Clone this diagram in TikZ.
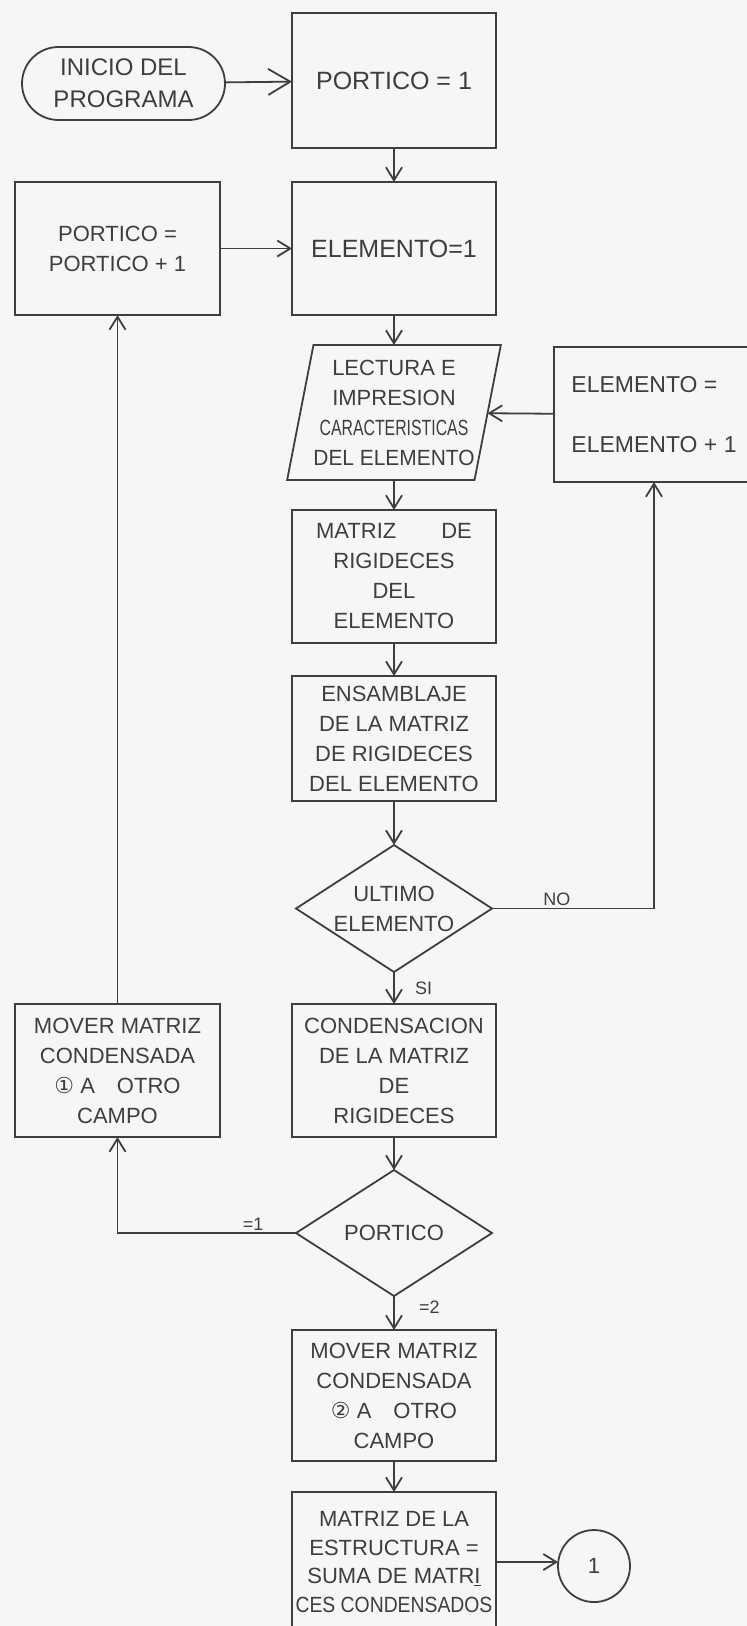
\documentclass[tikz,border=0pt]{standalone}
\usepackage{fontspec}
\setmainfont{Liberation Sans}
\newfontfamily\symfont{DejaVu Sans}
\usepackage{tikz}
\usetikzlibrary{shapes.geometric,shapes.misc,arrows.meta,positioning}
\definecolor{ink}{RGB}{62,62,62}
\definecolor{paper}{RGB}{246,246,246}

\begin{document}
\begin{tikzpicture}[
  x=1pt, y=1pt,
  line width=1.8pt, color=ink,
  font=\fontsize{22}{30}\selectfont,
  every node/.append style={outer sep=0pt},
  box/.style={rectangle,draw=ink,minimum width=204pt,minimum height=133pt,
              align=center,inner sep=2pt},
  term/.style={rounded rectangle,draw=ink,minimum width=207pt,minimum height=73pt,
               align=center,inner sep=2pt,font=\fontsize{24}{32}\selectfont},
  io/.style={trapezium,trapezium left angle=76,trapezium right angle=104,
             trapezium stretches=true,draw=ink,minimum width=199pt,
             minimum height=135pt,align=center,inner sep=0pt},
  dec/.style={diamond,aspect=1.54,draw=ink,minimum width=196pt,
              minimum height=127pt,align=center,inner sep=0pt},
  conn/.style={circle,draw=ink,minimum size=72pt,inner sep=0pt},
  lbl/.style={font=\fontsize{18}{20}\selectfont,inner sep=3pt},
  arr/.style={-{Straight Barb[length=13pt,width=16pt]}},
  big/.style={-{Straight Barb[length=22pt,width=26pt]}}
]

  \fill[paper] (0,0) rectangle (747,-1626);
  \useasboundingbox (0,0) rectangle (747,-1626);
  \clip (0,0) rectangle (747,-1626);

  % Columna central
  \node[box,minimum height=135pt,font=\fontsize{25}{30}\selectfont]
    (p1) at (394,-80.5) {PORTICO = 1};
  \node[box,below=34pt of p1,font=\fontsize{25}{30}\selectfont]
    (e1) {ELEMENTO=1};
  \node[io,below=30pt of e1] (lect)
    {LECTURA E\\IMPRESION\\\scalebox{0.72}[1]{CARACTERISTICAS}\\
     \scalebox{0.95}[1]{DEL ELEMENTO}};
  \node[box,below=30pt of lect] (mrig)
    {MATRIZ\hspace{45pt}DE\\RIGIDECES\\DEL\\ELEMENTO};
  \node[box,minimum height=125pt,below=33pt of mrig] (ens)
    {ENSAMBLAJE\\DE LA MATRIZ\\DE RIGIDECES\\DEL ELEMENTO};
  \node[dec,below=44pt of ens] (ult) {ULTIMO\\ELEMENTO};
  \node[box,below=32pt of ult] (cond)
    {CONDENSACION\\DE LA MATRIZ\\DE\\RIGIDECES};
  \node[dec,minimum height=126pt,below=33pt of cond] (port) {PORTICO};
  \node[box,minimum height=131pt,below=34pt of port] (mov2)
    {MOVER MATRIZ\\CONDENSADA\\{\symfont ②} A\quad OTRO\\CAMPO};
  \node[box,minimum height=140pt,below=31pt of mov2,
        font=\fontsize{22}{28.5}\selectfont] (fin)
    {MATRIZ DE LA\\ESTRUCTURA =\\SUMA DE MATR\underline{I}\\
     \scalebox{0.88}[1]{CES CONDENSADOS}};

  % Izquierda
  \node[term,left=67pt of p1,yshift=-3pt] (start) {INICIO DEL\\PROGRAMA};
  \node[box,minimum width=205pt,left=72pt of e1] (pinc)
    {PORTICO =\\PORTICO + 1};
  \node[box,minimum width=205pt,left=72pt of cond] (mov1)
    {MOVER MATRIZ\\CONDENSADA\\{\symfont ①} A\quad OTRO\\CAMPO};

  % Derecha
  \node[box,minimum width=200pt,minimum height=135pt,align=left,
        font=\fontsize{23}{30}\selectfont] (einc) at (654,-414.5)
    {ELEMENTO =\\[30pt]ELEMENTO + 1};
  \node[conn,right=62pt of fin,yshift=-4pt] (circ) {1};

  % Flechas
  \draw[big] (start) -- (p1);
  \draw[arr] (p1) -- (e1);
  \draw[arr] (pinc) -- (e1);
  \draw[arr] (e1) -- (lect);
  \draw[arr] (einc) -- (lect);
  \draw[arr] (lect) -- (mrig);
  \draw[arr] (mrig) -- (ens);
  \draw[arr] (ens) -- (ult);
  \draw[arr] (ult.east) -| node[lbl,pos=0.2,above] {NO} (einc.south);
  \draw[arr] (ult) -- node[lbl,right,xshift=18pt] {SI} (cond);
  \draw[arr] (cond) -- (port);
  \draw[arr] (port.west) -| node[lbl,pos=0.12,above] {=1} (mov1.south);
  \draw[arr] (mov1) -- (pinc);
  \draw[arr] (port) -- node[lbl,right,xshift=22pt,yshift=6pt] {=2} (mov2);
  \draw[arr] (mov2) -- (fin);
  \draw[arr] (fin.east) -- (fin.east -| circ.west);

\end{tikzpicture}
\end{document}
